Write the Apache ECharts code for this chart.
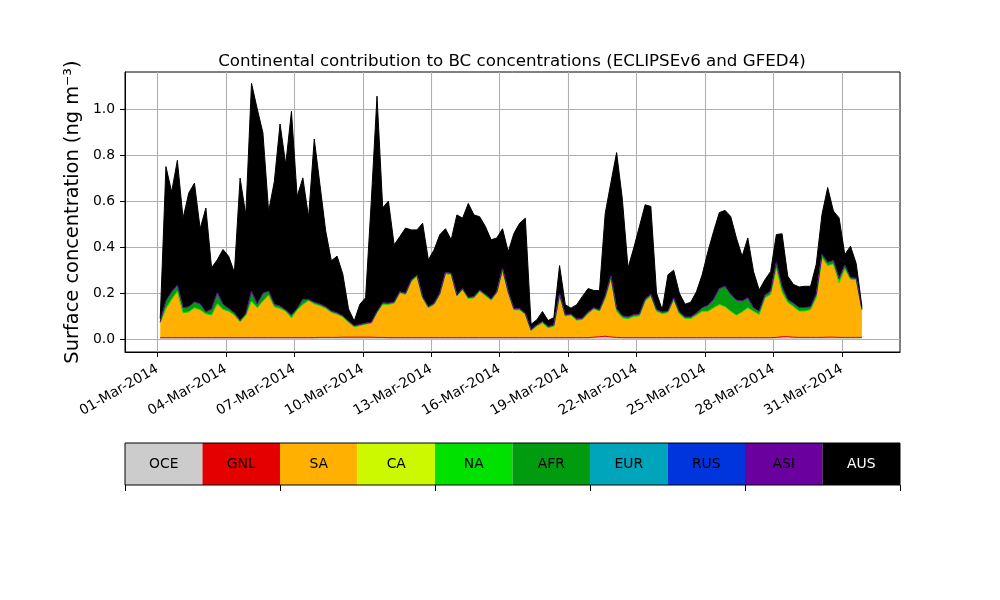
<!DOCTYPE html>
<html>
<head>
<meta charset="utf-8">
<script src="https://cdn.jsdelivr.net/npm/echarts@6/dist/echarts.min.js"></script>
<style>
html, body { margin: 0; background: #fff; }
#chart { width: 1000px; height: 600px; }
</style>
</head>
<body>
<div id="chart"></div>
<script>
// regions, stacked bottom -> top, with their colours (nipy_spectral_r)
const regions = ['OCE', 'GNL', 'SA', 'CA', 'NA', 'AFR', 'EUR', 'RUS', 'ASI', 'AUS'];
const regionColors = ['#cccccc', '#e50000', '#ffb000', '#ccf900', '#00e100',
                      '#009b0f', '#00a4bb', '#0035dd', '#6a009d', '#000000'];

// x tick labels: every 3 days in March 2014
const tickDays = [1, 4, 7, 10, 13, 16, 19, 22, 25, 28, 31];
const yTicks = [0.0, 0.2, 0.4, 0.6, 0.8, 1.0];

// 6-hourly values (ng m-3), first value 01-Mar-2014 03:00, one row per day
const oce = [
    .004,.004,.004,.004, .004,.004,.004,.004, .004,.004,.004,.004, .004,.004,.004,.004,
    .004,.004,.004,.004, .004,.004,.004,.004, .004,.004,.004,.004, .005,.005,.005,.005,
    .005,.005,.005,.005, .005,.005,.005,.005, .004,.004,.004,.004, .004,.004,.004,.004,
    .004,.004,.004,.004, .004,.004,.004,.004, .004,.004,.004,.004, .004,.004,.004,.004,
    .004,.004,.004,.004, .004,.004,.004,.004, .004,.004,.004,.004, .006,.008,.009,.007,
    .005,.004,.004,.004, .004,.004,.004,.004, .004,.004,.004,.004, .004,.004,.004,.004,
    .004,.004,.004,.004, .004,.004,.004,.004, .004,.004,.004,.004, .005,.006,.007,.006,
    .005,.005,.005,.005, .005,.006,.006,.005, .005,.005,.005,.005
];
const gnl = [
    .003,.003,.003,.003, .003,.003,.003,.003, .003,.003,.003,.003, .003,.003,.003,.003,
    .003,.003,.003,.003, .003,.003,.003,.003, .003,.003,.003,.003, .003,.003,.003,.003,
    .004,.004,.004,.004, .004,.004,.003,.003, .003,.003,.003,.003, .003,.003,.003,.003,
    .003,.003,.003,.003, .003,.003,.003,.003, .003,.003,.003,.003, .003,.003,.003,.003,
    .003,.003,.003,.003, .003,.003,.003,.003, .003,.003,.003,.003, .003,.003,.004,.003,
    .003,.003,.003,.003, .003,.003,.003,.003, .003,.003,.003,.003, .003,.003,.003,.003,
    .003,.003,.003,.003, .003,.003,.003,.003, .003,.003,.003,.003, .003,.005,.004,.003,
    .003,.003,.003,.003, .003,.003,.003,.003, .003,.003,.003,.003
];
const sa = [
    .063,.125,.164,.200,  .106,.110,.128,.119,  .102,.096,.145,.121,  .113,.096,.067,.096,
    .157,.128,.157,.183,  .132,.125,.113,.084,  .119,.142,.160,.145,  .136,.125,.107,.099,
    .087,.063,.043,.049,  .055,.059,.106,.142,  .142,.148,.193,.186,  .243,.265,.170,.128,
    .142,.186,.276,.273,  .179,.207,.168,.171,  .200,.181,.161,.193,  .293,.193,.119,.119,
    .099,.028,.048,.063,  .041,.048,.183,.092,  .096,.074,.077,.103,  .121,.110,.163,.253,
    .113,.084,.080,.090,  .093,.157,.179,.113,  .102,.107,.163,.102,  .081,.081,.096,.113,
    .113,.128,.142,.133,  .113,.096,.110,.128,  .113,.099,.171,.186,  .300,.193,.148,.131,
    .113,.113,.119,.171,  .345,.309,.316,.236,  .297,.251,.248,.118
];
const na = [
    .002,.002,.002,.002, .002,.002,.002,.002, .002,.002,.002,.002, .002,.002,.002,.002,
    .002,.002,.002,.002, .002,.002,.002,.002, .002,.002,.002,.002, .002,.002,.002,.002,
    .002,.002,.002,.002, .002,.002,.002,.002, .002,.002,.002,.002, .002,.002,.002,.002,
    .002,.002,.002,.002, .002,.002,.002,.002, .002,.002,.002,.002, .002,.002,.002,.002,
    .002,.002,.002,.002, .002,.002,.002,.002, .002,.002,.002,.002, .002,.002,.002,.002,
    .002,.002,.002,.002, .002,.002,.002,.002, .002,.002,.002,.002, .002,.002,.002,.002,
    .002,.002,.002,.002, .002,.002,.002,.002, .002,.002,.002,.002, .002,.002,.002,.002,
    .002,.002,.002,.002, .002,.002,.002,.002, .002,.002,.002,.002
];
const afr = [
    .003,.030,.031,.024,  .020,.020,.023,.024,  .006,.023,.046,.020,  .010,.008,.004,.004,
    .038,.013,.030,.015,  .009,.008,.003,.010,  .004,.020,.002,.005,  .005,.004,.004,.004,
    .002,.003,.003,.002,  .002,.002,.003,.004,  .004,.003,.003,.003,  .003,.003,.003,.003,
    .003,.003,.003,.003,  .002,.002,.003,.003,  .003,.003,.003,.003,  .003,.003,.003,.003,
    .002,.003,.003,.003,  .003,.003,.003,.003,  .003,.003,.003,.004,  .003,.003,.008,.008,
    .008,.007,.006,.006,  .006,.006,.006,.005,  .005,.005,.006,.005,  .005,.005,.007,.013,
    .023,.034,.067,.086,  .071,.063,.045,.041,  .013,.012,.010,.012,  .021,.020,.010,.012,
    .013,.013,.010,.013,  .011,.012,.013,.017,  .013,.005,.005,.003
];
const asi = [
    .002,.002,.002,.002, .002,.002,.002,.002, .002,.002,.002,.002, .002,.002,.002,.002,
    .004,.003,.004,.002, .002,.002,.002,.002, .002,.003,.002,.002, .002,.002,.002,.002,
    .002,.002,.002,.002, .002,.002,.002,.002, .002,.002,.002,.002, .002,.002,.002,.002,
    .002,.002,.002,.002, .002,.002,.002,.002, .002,.002,.002,.002, .002,.002,.002,.002,
    .002,.002,.002,.002, .002,.002,.002,.002, .002,.002,.002,.002, .002,.002,.002,.002,
    .002,.002,.002,.002, .002,.002,.002,.002, .002,.002,.002,.002, .002,.002,.002,.002,
    .002,.002,.002,.002, .002,.002,.002,.002, .002,.002,.002,.002, .002,.002,.002,.002,
    .002,.002,.002,.002, .003,.002,.002,.002, .002,.002,.002,.002
];
const aus = [
    .013,.584,.434,.542,  .389,.494,.516,.326,  .451,.180,.143,.238,  .226,.175,.618,.429,
    .904,.848,.697,.346,  .533,.791,.633,.885,  .486,.527,.357,.709,  .518,.330,.218,.246,
    .181,.053,.020,.088,  .110,.528,.935,.413,  .443,.248,.239,.283,  .218,.196,.320,.203,
    .232,.254,.190,.145,  .348,.306,.408,.355,  .318,.295,.257,.233,  .173,.173,.327,.371,
    .414,.023,.022,.043,  .026,.032,.123,.044,  .025,.062,.095,.102,  .075,.083,.358,.406,
    .678,.508,.213,.289,  .380,.410,.381,.071,  .010,.157,.120,.082,  .055,.064,.093,.143,
    .233,.295,.330,.330,  .338,.270,.194,.260,  .157,.092,.066,.085,  .122,.230,.101,.082,
    .089,.092,.089,.130,  .173,.325,.215,.262,  .046,.136,.064,.008
];

// CA, EUR and RUS stay below one pixel on this scale, so they only show in the colour bar
const regionValues = { OCE: oce, GNL: gnl, SA: sa, NA: na, AFR: afr, ASI: asi, AUS: aus };

const FONT = 'DejaVu Sans';
const DAY = 24 * 3600 * 1000;
const t0 = new Date(2014, 2, 1, 3).getTime();
const step = DAY / 4;
const march1 = new Date(2014, 2, 1).getTime();
const months = ['Jan', 'Feb', 'Mar', 'Apr', 'May', 'Jun', 'Jul', 'Aug', 'Sep', 'Oct', 'Nov', 'Dec'];
const tickTimes = tickDays.map(d => new Date(2014, 2, d).getTime());

function fmtDate(v) {
    const d = new Date(v);
    return String(d.getDate()).padStart(2, '0') + '-' + months[d.getMonth()] + '-' + d.getFullYear();
}

const chart = echarts.init(document.getElementById('chart'));

// points are [value, time]; the first column is the one ECharts stacks
const areaSeries = regions.filter(r => regionValues[r]).map(r => {
    const color = regionColors[regions.indexOf(r)];
    return {
        name: r,
        type: 'line',
        stack: 'bc',
        xAxisIndex: 0,
        yAxisIndex: 0,
        symbol: 'none',
        encode: { x: 1, y: 0 },
        data: regionValues[r].map((v, i) => [v, t0 + i * step]),
        lineStyle: { width: 1, color: color },
        itemStyle: { color: color },
        areaStyle: { color: color, opacity: 1 }
    };
});

// colour bar below the plot
const barSeries = regions.map((r, k) => ({
    name: r + '_bar',
    type: 'bar',
    stack: 'cb',
    xAxisIndex: 1,
    yAxisIndex: 1,
    barWidth: '100%',
    data: [1],
    itemStyle: { color: regionColors[k] },
    label: {
        show: true,
        position: 'inside',
        formatter: r,
        color: k === regions.length - 1 ? '#fff' : '#000',
        fontFamily: FONT,
        fontSize: 13.9
    }
}));

const option = {
    animation: false,
    backgroundColor: '#fff',
    title: {
        text: 'Continental contribution to BC concentrations (ECLIPSEv6 and GFED4)',
        left: 507,
        top: 48,
        textAlign: 'center',
        textStyle: { fontFamily: FONT, fontSize: 16.7, fontWeight: 'normal', color: '#000' }
    },
    grid: [
        { left: 125, right: 100, top: 72, bottom: 248, show: true, borderColor: '#000', borderWidth: 1 },
        { left: 125, right: 100, top: 443, height: 42, show: true, borderColor: '#000', borderWidth: 1, z: 10 }
    ],
    xAxis: [
        {
            // value axis holding timestamps (ms)
            type: 'value',
            gridIndex: 0,
            z: 3,
            min: march1 - 1.419 * DAY,
            max: march1 + 32.544 * DAY,
            axisLine: { show: true, onZero: false, lineStyle: { color: '#000', width: 1 } },
            axisTick: { show: true, customValues: tickTimes, length: 5, lineStyle: { color: '#000' } },
            axisLabel: {
                customValues: tickTimes,
                formatter: fmtDate,
                rotate: 30,
                margin: 16,
                fontFamily: FONT,
                fontSize: 13.9,
                color: '#000'
            },
            splitLine: { show: true, lineStyle: { color: '#b0b0b0', width: 1.1 } }
        },
        {
            type: 'value',
            gridIndex: 1,
            min: 0,
            max: 10,
            interval: 2,
            axisLine: { show: false },
            axisTick: { show: true, length: 6, lineStyle: { color: '#000' } },
            axisLabel: { show: false },
            splitLine: { show: false }
        }
    ],
    yAxis: [
        {
            type: 'value',
            gridIndex: 0,
            z: 3,
            min: -0.0555,
            max: 1.161,
            name: 'Surface concentration (ng m\u207B\u00B3)',
            nameLocation: 'middle',
            nameGap: 38,
            nameTextStyle: { fontFamily: FONT, fontSize: 19.4, color: '#000' },
            axisLine: { show: true, onZero: false, lineStyle: { color: '#000', width: 1 } },
            axisTick: { show: true, customValues: yTicks, length: 5, lineStyle: { color: '#000' } },
            axisLabel: {
                customValues: yTicks,
                formatter: v => v.toFixed(1),
                margin: 10,
                fontFamily: FONT,
                fontSize: 13.9,
                color: '#000'
            },
            splitLine: { show: true, lineStyle: { color: '#b0b0b0', width: 1.1 } }
        },
        {
            type: 'category',
            gridIndex: 1,
            data: [''],
            show: false
        }
    ],
    series: areaSeries.concat(barSeries)
};

chart.setOption(option);
window.addEventListener('resize', () => chart.resize());
</script>
</body>
</html>
